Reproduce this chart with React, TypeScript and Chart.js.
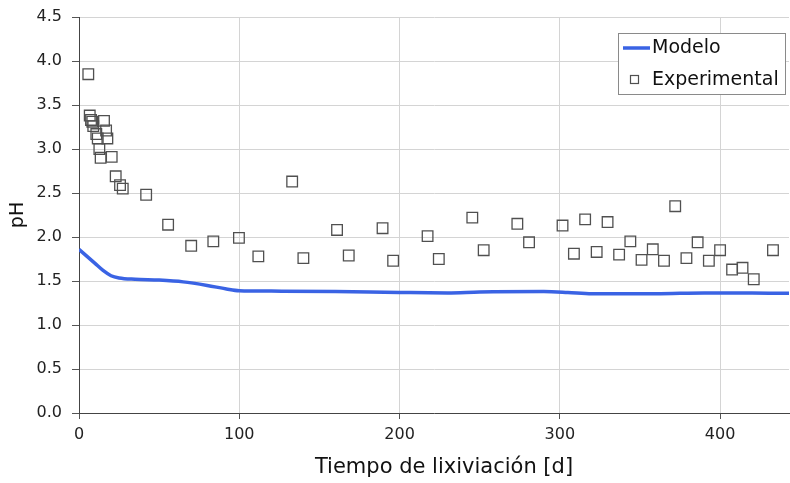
import React, { useEffect, useRef } from "react";
import { Chart, registerables } from "chart.js";

Chart.register(...registerables);

// Leaching time [d] and measured pH
const expDays = [
  5.8, 6.7, 7.5, 8.3, 8.9, 15.6, 10.8, 16.9, 11.7, 17.7, 12.7, 13.5, 20.4, 22.9, 25.6, 27.3, 41.9,
  55.6, 70, 83.8, 99.8, 111.9, 133, 140, 161, 168.3, 189.4, 196, 217.5, 224.5,
  245.4, 252.5, 273.5, 280.8, 301.7, 308.8, 315.8, 323, 329.8, 337, 344, 351, 358, 365,
  372, 379, 386, 393, 400, 407.5, 414, 421, 433,
];
const expPH = [
  3.85, 3.38, 3.33, 3.31, 3.26, 3.32, 3.17, 3.21, 3.12, 3.12, 3.0, 2.9, 2.91, 2.69, 2.59, 2.55, 2.48,
  2.14, 1.9, 1.95, 1.99, 1.78, 2.63, 1.76, 2.08, 1.79, 2.1, 1.73, 2.01, 1.75,
  2.22, 1.85, 2.15, 1.94, 2.13, 1.81, 2.2, 1.83, 2.17, 1.8, 1.95, 1.74, 1.86, 1.73,
  2.35, 1.76, 1.94, 1.73, 1.85, 1.63, 1.65, 1.52, 1.85,
];

// Model curve
const modelDays = [0, 5, 10, 15, 20, 25, 35, 50, 65, 80, 92, 100, 120, 160, 200, 230, 250, 290, 305, 320, 360, 390, 420, 443];
const modelPH = [1.86, 1.78, 1.7, 1.62, 1.56, 1.535, 1.52, 1.51, 1.49, 1.45, 1.41, 1.39, 1.385, 1.38, 1.37, 1.365, 1.375, 1.38, 1.37, 1.355, 1.355, 1.365, 1.365, 1.36];

const xTicks = [0, 100, 200, 300, 400];
const yTicks = [0, 0.5, 1, 1.5, 2, 2.5, 3, 3.5, 4, 4.5];

const legendLabels = ["Modelo", "Experimental"];
const xTitle = "Tiempo de lixiviación [d]";

const FONT = "'DejaVu Sans', Verdana, sans-serif";
const LINE_COLOR = "#3a63e4";
const MARK_COLOR = "#505050";

const legendPlugin = {
  id: "boxLegend",
  afterDraw(chart: any) {
    const ctx = chart.ctx;
    const x = 618.5, y = 33.5, w = 167, h = 61;
    ctx.save();
    ctx.fillStyle = "#ffffff";
    ctx.fillRect(x, y, w, h);
    ctx.strokeStyle = "#8a8a8a";
    ctx.lineWidth = 1;
    ctx.strokeRect(x, y, w, h);

    ctx.strokeStyle = LINE_COLOR;
    ctx.lineWidth = 3.5;
    ctx.beginPath();
    ctx.moveTo(623, 48);
    ctx.lineTo(650, 48);
    ctx.stroke();

    ctx.strokeStyle = MARK_COLOR;
    ctx.lineWidth = 1.2;
    ctx.strokeRect(630.5, 75.5, 8, 8);

    ctx.fillStyle = "#111111";
    ctx.font = `19px ${FONT}`;
    ctx.textBaseline = "middle";
    ctx.textAlign = "left";
    ctx.fillText(legendLabels[0], 652, 48);
    ctx.fillText(legendLabels[1], 652, 80);

    // x axis title
    ctx.font = `21px ${FONT}`;
    ctx.textAlign = "center";
    ctx.fillText(xTitle, 444, 468);
    ctx.restore();
  },
};

export default function App() {
  const ref = useRef<HTMLCanvasElement>(null);

  useEffect(() => {
    if (!ref.current) return;
    const chart = new Chart(ref.current, {
      type: "scatter",
      data: {
        datasets: [
          {
            type: "line",
            label: legendLabels[0],
            data: modelDays.map((d, i) => ({ x: d, y: modelPH[i] })),
            borderColor: LINE_COLOR,
            borderWidth: 3.5,
            pointRadius: 0,
            cubicInterpolationMode: "monotone",
            fill: false,
            order: 1,
          } as any,
          {
            label: legendLabels[1],
            data: expDays.map((d, i) => ({ x: d, y: expPH[i] })),
            pointStyle: "rect",
            pointRadius: 7.5,
            borderColor: MARK_COLOR,
            backgroundColor: "rgba(0,0,0,0)",
            borderWidth: 1.3,
            order: 0,
          },
        ],
      },
      options: {
        animation: false,
        responsive: false,
        layout: { autoPadding: false, padding: { top: 17, right: 1, left: 0, bottom: 0 } },
        plugins: {
          legend: { display: false },
          tooltip: { enabled: false },
        },
        scales: {
          x: {
            type: "linear",
            min: 0,
            max: 443,
            afterBuildTicks: (s: any) => {
              s.ticks = xTicks.map((v) => ({ value: v }));
            },
            afterFit: (s: any) => {
              s.height = 70;
              s.paddingRight = 0;
              s.paddingLeft = 0;
            },
            grid: { color: "#d4d4d4", tickColor: "#555555", tickLength: 6, lineWidth: 1 },
            border: { color: "#444444", width: 1 },
            ticks: { color: "#222222", font: { family: FONT, size: 16 }, padding: 6, maxRotation: 0 },
            title: { display: false },
          },
          y: {
            type: "linear",
            min: 0,
            max: 4.5,
            afterBuildTicks: (s: any) => {
              s.ticks = yTicks.map((v) => ({ value: v }));
            },
            afterFit: (s: any) => {
              s.width = 79;
              s.paddingTop = 0;
              s.paddingBottom = 0;
            },
            grid: { color: "#d4d4d4", tickColor: "#555555", tickLength: 7, lineWidth: 1 },
            border: { color: "#444444", width: 1 },
            ticks: {
              color: "#222222",
              font: { family: FONT, size: 16 },
              padding: 10,
              callback: (v: any) => Number(v).toFixed(1),
            },
            title: {
              display: true,
              text: "pH",
              color: "#111111",
              font: { family: FONT, size: 19 },
              padding: { top: 7, bottom: 0 },
            },
          },
        },
      },
      plugins: [legendPlugin],
    });
    return () => chart.destroy();
  }, []);

  return (
    <div style={{ position: "fixed", left: 0, top: 0, width: 790, height: 483, background: "#ffffff" }}>
      <canvas ref={ref} width={790} height={483} style={{ width: 790, height: 483, display: "block" }} />
    </div>
  );
}
